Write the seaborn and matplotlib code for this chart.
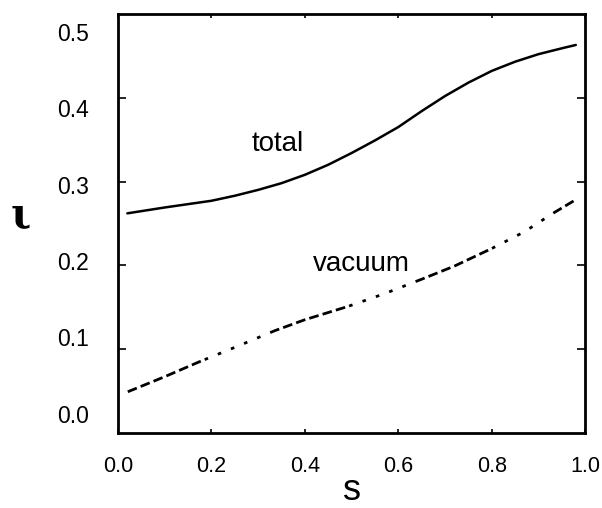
import matplotlib
matplotlib.use("Agg")
import matplotlib.pyplot as plt
import numpy as np
import pandas as pd
import seaborn as sns

# rotational transform profiles along the normalized flux label s
s_total = [0.02, 0.10, 0.20, 0.25, 0.30, 0.35, 0.40, 0.45, 0.50, 0.55, 0.60, 0.65,
           0.70, 0.75, 0.80, 0.85, 0.90, 0.95, 0.98]
iota_total = [0.262, 0.269, 0.277, 0.283, 0.290, 0.298, 0.308, 0.320, 0.334, 0.349,
              0.365, 0.384, 0.402, 0.418, 0.432, 0.443, 0.452, 0.459, 0.463]

s_vacuum = [0.021, 0.10, 0.175, 0.25, 0.336, 0.40, 0.493, 0.57, 0.653, 0.72,
            0.800, 0.87, 0.931, 0.979]
iota_vacuum = [0.049, 0.067, 0.085, 0.102, 0.122, 0.135, 0.151, 0.166, 0.184, 0.199,
               0.220, 0.240, 0.262, 0.278]

x_ticks = [0.0, 0.2, 0.4, 0.6, 0.8, 1.0]
x_tick_labels = ["0.0", "0.2", "0.4", "0.6", "0.8", "1.0"]
y_ticks = [0.1, 0.2, 0.3, 0.4]
y_tick_values = [0.0, 0.1, 0.2, 0.3, 0.4, 0.5]
y_tick_labels = ["0.0", "0.1", "0.2", "0.3", "0.4", "0.5"]

sns.set_theme(style="white")
plt.rcParams["font.family"] = ["Liberation Sans", "DejaVu Sans"]
plt.rcParams["lines.scale_dashes"] = False

df_total = pd.DataFrame({"s": s_total, "iota": iota_total})
df_vac = pd.DataFrame({"s": s_vacuum, "iota": iota_vacuum})

fig = plt.figure(figsize=(6.02, 5.08), dpi=100)
ax = fig.add_axes([0.196, 0.148, 0.776, 0.8245])

sns.lineplot(data=df_total, x="s", y="iota", ax=ax, color="black", lw=1.8,
             sort=False, estimator=None)
dash_pattern = (0, [7.0, 3.0] * 6 + [2.6, 7.6] * 5)
sns.lineplot(data=df_vac, x="s", y="iota", ax=ax, color="black", lw=2.0,
             sort=False, estimator=None, linestyle=dash_pattern)

ax.set_xlim(0.0, 1.0)
ax.set_ylim(0.0, 0.5)

for sp in ax.spines.values():
    sp.set_visible(True)
    sp.set_color("black")
    sp.set_linewidth(2.0)

# x axis: short inward ticks on bottom and top
ax.set_xticks(x_ticks)
ax.set_xticklabels(x_tick_labels)
ax.tick_params(axis="x", which="major", direction="in", length=3, width=1.2,
               top=True, bottom=True, pad=17, labelsize=15.5, colors="black")

# y axis: inward marks at the tenths, labels set on their own slightly compressed scale
ax.set_yticks(y_ticks, minor=True)
ax.set_yticks([0.0225 + 0.913 * v for v in y_tick_values])
ax.set_yticklabels(y_tick_labels)
ax.tick_params(axis="y", which="major", length=0, pad=21, labelsize=16.5, colors="black")
ax.tick_params(axis="y", which="minor", direction="in", length=6, width=1.2,
               left=True, right=True, colors="black")

ax.set_xlabel("")
ax.set_ylabel("")
fig.text(0.5847, 8.0 / 508, "s", fontsize=26, ha="center", va="baseline", color="black")
fig.text(0.035, 0.575, "ι", fontsize=30, ha="center", va="center", color="black",
         family=["DejaVu Serif"], weight="bold")

ax.text(0.343, 0.345, "total", fontsize=20, ha="center", va="center", color="black")
ax.text(0.522, 0.202, "vacuum", fontsize=20, ha="center", va="center", color="black")

fig.savefig("out.png", dpi=100, facecolor="white")
